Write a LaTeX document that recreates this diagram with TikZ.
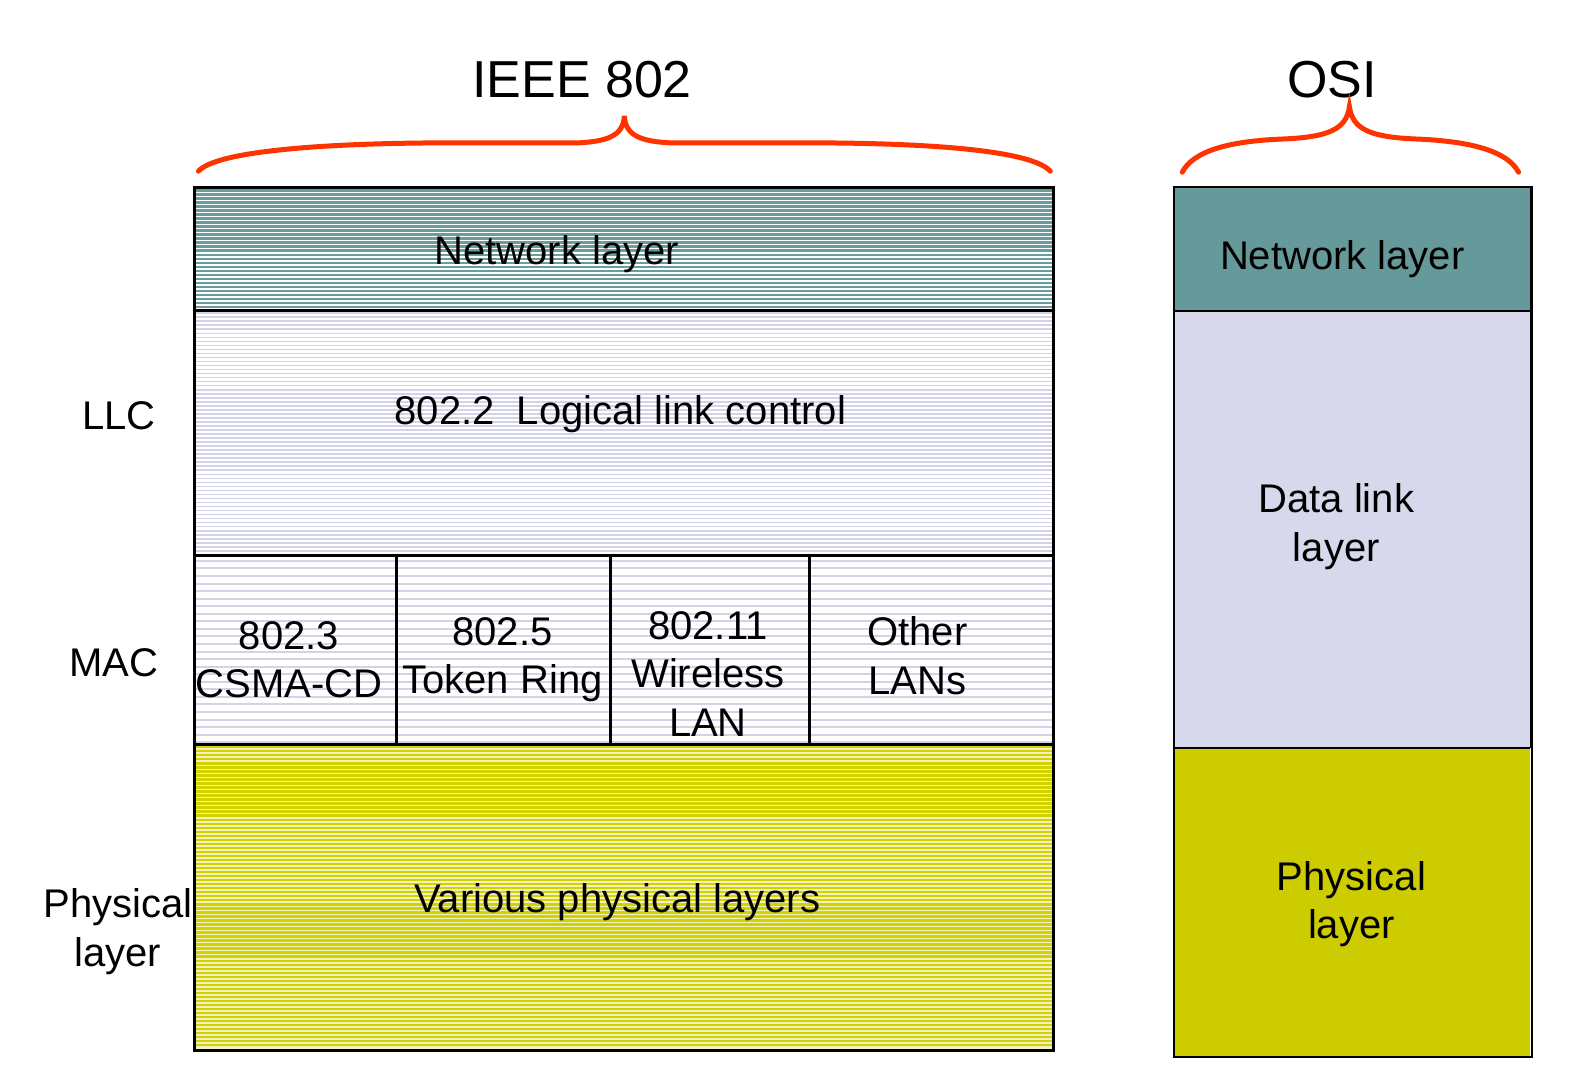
\documentclass[tikz,border=0pt]{standalone}
\usepackage{fontspec}
\setmainfont{Liberation Sans}
\definecolor{tealc}{HTML}{669999}
\definecolor{tealstripe}{HTML}{6A9C9C}
\definecolor{lavc}{HTML}{D8D8EC}
\definecolor{lavstripe}{HTML}{D2D2E8}
\definecolor{yelc}{HTML}{CCCC00}
\definecolor{yelstripe}{HTML}{D2D200}
\definecolor{yelbg}{HTML}{F2F2C0}
\definecolor{bracec}{HTML}{FF3300}
\begin{document}
\begin{tikzpicture}[x=1.007pt,y=-1.007pt,
  lbl/.style={font=\fontsize{40}{48.5}\selectfont, align=center, inner sep=0pt, yshift=-4pt},
  title/.style={font=\fontsize{52}{60}\selectfont, inner sep=0pt, yshift=-2pt},
  brace/.style={draw=bracec, line width=5pt, line cap=round},
  cellborder/.style={draw=black, line width=3pt},
  rcellborder/.style={draw=black, line width=2pt}]
\useasboundingbox (0,0) rectangle (1568,1077);
\fill[white] (0,0) rectangle (1568,1077);

% ---------- IEEE 802 stack ----------
\fill[white] (193,186) rectangle (1046,308);
\foreach \yy in {189,193,...,306} \draw[tealstripe, line width=2.5pt] (193,\yy) -- (1046,\yy);
\fill[white] (193,308) rectangle (1046,552);
\foreach \yy in {311,315,...,550} \draw[lavstripe, line width=1.6pt] (193,\yy) -- (1046,\yy);
\fill[white] (193,552) rectangle (1046,739);
\foreach \yy in {557,564.5,...,737} \draw[lavstripe, line width=2pt] (193,\yy) -- (1046,\yy);
\fill[yelbg] (193,739) rectangle (1046,1043);
\foreach \yy in {742,746,...,1041} \draw[yelstripe, line width=2.4pt] (193,\yy) -- (1046,\yy);

\draw[cellborder] (193,186) rectangle (1046,1043);
\draw[cellborder] (193,308) -- (1046,308);
\draw[cellborder] (193,552) -- (1046,552);
\draw[cellborder] (193,739) -- (1046,739);
\draw[cellborder] (394,552) -- (394,739);
\draw[cellborder] (606,552) -- (606,739);
\draw[cellborder] (804,552) -- (804,739);

\node[lbl] (netL) at (553,248) {Network layer};
\node[lbl] (llcT) at (616,407) {802.2\ \ Logical link control};
\node[lbl] (m1) at (287,651) {802.3\\CSMA-CD};
\node[lbl] (m2) at (499,651) {802.5\\Token Ring};
\node[lbl] (m3) at (703,665) {802.11\\Wireless\\LAN};
\node[lbl] (m4) at (911,647) {Other\\LANs};
\node[lbl] (phyL) at (613,892) {Various physical layers};

\node[lbl] (llcLbl) at (118,409) {LLC};
\node[lbl] (macLbl) at (113,654) {MAC};
\node[lbl] (phyLbl) at (117,921) {Physical\\layer};

% ---------- OSI stack ----------
\fill[tealc] (1166,186) rectangle (1519,309);
\fill[lavc] (1166,309) rectangle (1519,743);
\fill[yelc] (1166,743) rectangle (1519,1050);
\draw[rcellborder] (1166,186) rectangle (1521,1050);
\draw[line width=3pt] (1521,186) -- (1521,743);
\draw[rcellborder] (1166,309) -- (1519,309);
\draw[rcellborder] (1166,743) -- (1519,743);

\node[lbl] (netR) at (1333,253) {Network layer};
\node[lbl] (dlR) at (1327,519) {Data link\\layer};
\node[lbl] (phyR) at (1342,894) {Physical\\layer};

% ---------- titles and braces ----------
\node[title] (ieee) at (578,77) {IEEE 802};
\node[title] (osi) at (1323,77) {OSI};

\draw[brace] (197,170) .. controls (215,150) and (320,143) .. (420,142)
  -- (570,142) .. controls (605,141) and (619,134) .. (620,115)
  .. controls (621,134) and (635,141) .. (670,142)
  -- (830,142) .. controls (930,143) and (1025,150) .. (1043,170);
\draw[brace] (1174,171) .. controls (1185,150) and (1220,140) .. (1275,138)
  .. controls (1320,136) and (1337,128) .. (1340,106)
  .. controls (1343,128) and (1360,136) .. (1405,138)
  .. controls (1460,140) and (1497,150) .. (1508,171);
\end{tikzpicture}
\end{document}
